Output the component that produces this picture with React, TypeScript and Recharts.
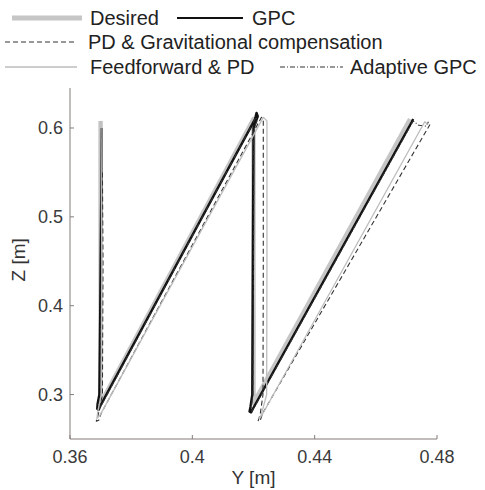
import React from "react";
import { LineChart, Line, XAxis, YAxis, Legend } from "recharts";

// trajectories in the Y-Z plane, [Y, Z] in metres
const desired: [number, number][] = [
  [0.37, 0.608], [0.37, 0.29], [0.42, 0.61], [0.42, 0.29], [0.4712, 0.61],
];
const gpc: [number, number][] = [
  [0.3702, 0.6], [0.3702, 0.52], [0.3699, 0.4], [0.3696, 0.3], [0.369, 0.289],
  [0.3689, 0.284], [0.3694, 0.283], [0.37, 0.288], [0.4205, 0.61], [0.421, 0.617],
  [0.4214, 0.613], [0.42, 0.6], [0.4198, 0.45], [0.4196, 0.3], [0.419, 0.286],
  [0.4187, 0.281], [0.4192, 0.28], [0.4198, 0.284], [0.4718, 0.607], [0.4722, 0.61],
];
const pdGrav: [number, number][] = [
  [0.3706, 0.55], [0.3708, 0.45], [0.3706, 0.3], [0.3692, 0.277], [0.3686, 0.27],
  [0.3694, 0.271], [0.3702, 0.279], [0.4226, 0.612], [0.4232, 0.608], [0.4232, 0.45],
  [0.4231, 0.3], [0.4222, 0.278], [0.4215, 0.27], [0.4222, 0.271], [0.423, 0.279],
  [0.4777, 0.604],
];
const feedforward: [number, number][] = [
  [0.3701, 0.608], [0.3704, 0.45], [0.3702, 0.3], [0.369, 0.279], [0.3688, 0.273],
  [0.3697, 0.276], [0.4232, 0.612], [0.4244, 0.608], [0.4244, 0.45], [0.4243, 0.3],
  [0.4225, 0.277], [0.4218, 0.273], [0.4228, 0.277], [0.476, 0.607], [0.477, 0.604],
];
const adaptive: [number, number][] = [
  [0.3703, 0.6], [0.3703, 0.45], [0.37, 0.3], [0.3693, 0.286], [0.3691, 0.282],
  [0.3698, 0.285], [0.4208, 0.612], [0.4212, 0.608], [0.4201, 0.6], [0.42, 0.45],
  [0.4198, 0.3], [0.4192, 0.284], [0.4195, 0.281], [0.42, 0.284], [0.4722, 0.608],
  [0.474, 0.603], [0.4765, 0.602], [0.4772, 0.607],
];

const xTicks = [0.36, 0.4, 0.44, 0.48];
const yTicks = [0.3, 0.4, 0.5, 0.6];

const FONT = "'Liberation Sans', Arial, sans-serif";
const AXIS = "#857b7b";
const TICK = { fontSize: 18, fill: "#3a3a3a", fontFamily: FONT };

const toRows = (pts: [number, number][]) => pts.map(([y, z]) => ({ y, z }));

const SERIES = [
  { key: "desired", name: "Desired", data: desired, stroke: "#c6c6c6", width: 4.5, dash: undefined },
  { key: "gpc", name: "GPC", data: gpc, stroke: "#111", width: 2.4, dash: undefined },
  { key: "adaptive", name: "Adaptive GPC", data: adaptive, stroke: "#333", width: 1.1, dash: "5 2 1 2" },
  { key: "pd", name: "PD & Gravitational compensation", data: pdGrav, stroke: "#333", width: 1.1, dash: "5 3" },
  { key: "ff", name: "Feedforward & PD", data: feedforward, stroke: "#bdbdbd", width: 1.3, dash: undefined },
];

// where each legend entry sits: line start/end, text x, row y
const LEGEND_POS: Record<string, { x1: number; x2: number; tx: number; y: number }> = {
  desired: { x1: 12, x2: 82, tx: 90, y: 18 },
  gpc: { x1: 177, x2: 243, tx: 252, y: 18 },
  pd: { x1: 5, x2: 77, tx: 88, y: 42 },
  ff: { x1: 5, x2: 77, tx: 90, y: 67 },
  adaptive: { x1: 280, x2: 343, tx: 350, y: 67 },
};

function LegendBox() {
  return (
    <svg width={485} height={85} style={{ display: "block" }}>
      {SERIES.map((s) => {
        const p = LEGEND_POS[s.key];
        return (
          <g key={s.key}>
            <line
              x1={p.x1}
              x2={p.x2}
              y1={p.y}
              y2={p.y}
              stroke={s.stroke}
              strokeWidth={s.key === "desired" ? 5 : s.key === "gpc" ? 2 : s.width}
              strokeDasharray={s.dash}
            />
            <text x={p.tx} y={p.y + 7} fontSize={20} fontFamily={FONT} fill="#222">
              {s.name}
            </text>
          </g>
        );
      })}
    </svg>
  );
}

export default function App() {
  return (
    <div style={{ position: "absolute", left: 0, top: 0, background: "#fff" }}>
      <LineChart width={485} height={490} margin={{ top: 3, right: 48, left: 0, bottom: 0 }}>
        <XAxis
          dataKey="y"
          type="number"
          domain={[0.36, 0.48]}
          ticks={xTicks}
          tickFormatter={(v: number) => String(v)}
          allowDataOverflow
          height={51}
          stroke={AXIS}
          tick={TICK}
          tickSize={-4}
          tickMargin={15}
          label={{ value: "Y [m]", position: "insideBottom", offset: 6, fontSize: 19, fill: "#333", fontFamily: FONT }}
        />
        <YAxis
          dataKey="z"
          type="number"
          domain={[0.25, 0.645]}
          ticks={yTicks}
          tickFormatter={(v: number) => String(v)}
          allowDataOverflow
          width={70}
          stroke={AXIS}
          tick={TICK}
          tickSize={-4}
          tickMargin={11}
          label={{ value: "Z [m]", angle: -90, position: "insideLeft", offset: 18, dy: 18, fontSize: 19, fill: "#333", fontFamily: FONT }}
        />
        <Legend
          verticalAlign="top"
          content={() => <LegendBox />}
          wrapperStyle={{ position: "absolute", left: 0, top: 0, width: 485, height: 85 }}
        />
        {SERIES.map((s) => (
          <Line
            key={s.key}
            data={toRows(s.data)}
            dataKey="z"
            name={s.name}
            stroke={s.stroke}
            strokeWidth={s.width}
            strokeDasharray={s.dash}
            strokeLinejoin="round"
            dot={false}
            activeDot={false}
            isAnimationActive={false}
            type="linear"
          />
        ))}
      </LineChart>
    </div>
  );
}
